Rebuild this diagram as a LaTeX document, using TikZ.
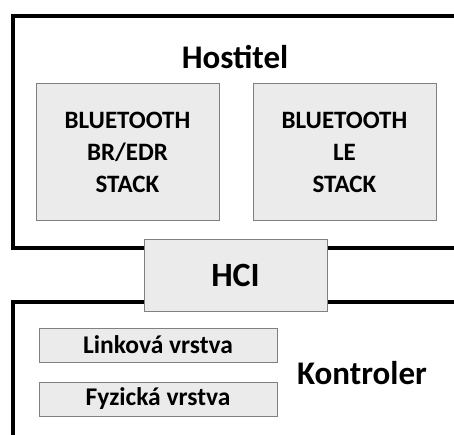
\documentclass[tikz,border=0pt]{standalone}
\usepackage{fontspec}
\setmainfont{Carlito}
\usetikzlibrary{positioning}

\definecolor{boxgray}{HTML}{EBEBEB}
\definecolor{edgegray}{HTML}{808080}

\begin{document}
\begin{tikzpicture}[x=1pt, y=-1pt,
  frame/.style={line width=4pt, line join=miter},
  stack/.style={draw=edgegray, fill=boxgray, line width=1pt, minimum width=183pt, minimum height=137pt, inner sep=0pt, align=center, font=\fontsize{25}{32}\selectfont\bfseries},
  hcibox/.style={draw=edgegray, fill=boxgray, line width=1pt, minimum width=183pt, minimum height=72pt, inner sep=0pt, font=\fontsize{34}{36}\selectfont\bfseries},
  layer/.style={draw=edgegray, fill=boxgray, line width=1pt, minimum width=238pt, minimum height=34pt, inner sep=0pt, font=\fontsize{25.5}{27}\selectfont\bfseries},
  title/.style={font=\fontsize{33}{36}\selectfont\bfseries}]

\useasboundingbox (0,0) rectangle (454,435);

% nodes %
\node[title] (host) at (235,57) {Hostitel};
\node[stack] (bredr) at (127.5,152.5) {BLUETOOTH\\BR/EDR\\STACK};
\node[stack, right = 33pt of bredr] (le) {BLUETOOTH\\LE\\STACK};
\node[hcibox] (hci) at (235.5,275) {HCI};
\node[layer] (link) at (158,345) {Linková vrstva};
\node[layer, below = 19pt of link] (fyz) {Fyzická vrstva};
\node[title] (ctrl) at (362,373) {Kontroler};

% frames %
\coordinate (htl) at (12.5,16);
\coordinate (hbl) at (12.5,247.5);
\coordinate (ctl) at (12.5,301.5);
\coordinate (cbl) at (12.5,437);

%host%
\draw[frame] (hbl -| hci.west) -- (hbl) -- (htl) -- (456,16);
\draw[frame] (hbl -| hci.east) -- (456,247.5);

%controller%
\draw[frame] (ctl -| hci.west) -- (ctl) -- (cbl);
\draw[frame] (ctl -| hci.east) -- (456,301.5);

\end{tikzpicture}
\end{document}
